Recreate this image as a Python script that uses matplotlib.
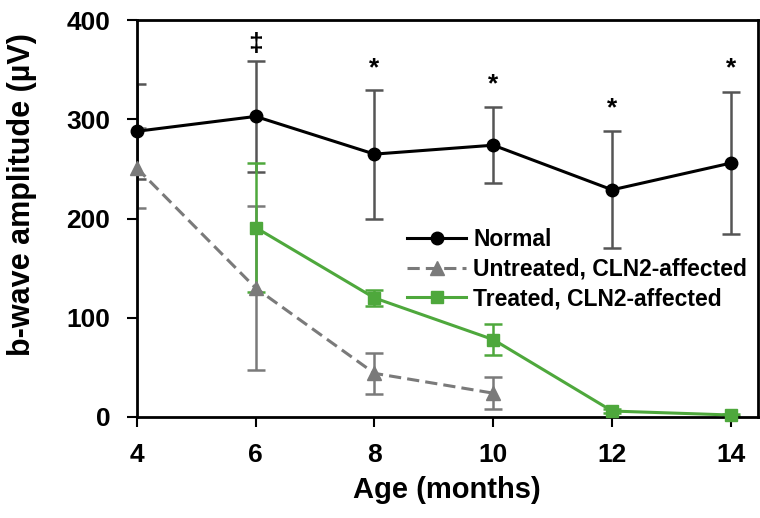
import matplotlib.pyplot as plt

plt.rcParams['font.family'] = ['Liberation Sans', 'DejaVu Sans']
plt.rcParams['font.weight'] = 'bold'

# ages (months)
age_normal = [4, 6, 8, 10, 12, 14]
age_untreated = [4, 6, 8, 10]
age_treated = [6, 8, 10, 12, 14]

# b-wave amplitude (uV) and error
normal = [288, 303, 265, 274, 229, 256]
normal_err = [48, 56, 65, 38, 59, 72]
untreated = [251, 130, 44, 24]
untreated_err = [40, 83, 21, 16]
treated = [191, 120, 78, 6, 2]
treated_err = [65, 8, 16, 2, 1]

# significance marks
mark_x = [6, 8, 10, 12, 14]
mark_y = [376, 352, 335, 311, 351]
mark_txt = ['‡', '*', '*', '*', '*']

green = '#4ea83c'
grey = '#7a7a7a'
errc = '#555555'

fig, ax = plt.subplots(figsize=(7.6, 5.18), dpi=100)
fig.subplots_adjust(left=0.180, right=0.997, bottom=0.195, top=0.961)

ax.errorbar(age_normal, normal, yerr=normal_err, fmt='none', ecolor=errc,
            elinewidth=1.8, capsize=6.5, capthick=1.8, zorder=2)
ax.errorbar(age_untreated, untreated, yerr=untreated_err, fmt='none', ecolor=grey,
            elinewidth=1.8, capsize=6.5, capthick=1.8, zorder=2)
ax.errorbar(age_treated, treated, yerr=treated_err, fmt='none', ecolor=green,
            elinewidth=1.8, capsize=6.5, capthick=1.8, zorder=2)

ax.plot(age_normal, normal, color='black', marker='o', markersize=9, lw=2.2,
        label='Normal', zorder=4, clip_on=False)
ax.plot(age_untreated, untreated, color=grey, marker='^', markersize=10, lw=2.2,
        linestyle='--', dashes=(4, 2), label='Untreated, CLN2-affected', zorder=3, clip_on=False)
ax.plot(age_treated, treated, color=green, marker='s', markersize=9, lw=2.2,
        label='Treated, CLN2-affected', zorder=3, clip_on=False)

for x, y, t in zip(mark_x, mark_y, mark_txt):
    ax.text(x, y, t, ha='center', va='center', fontsize=19, fontweight='bold')

ax.set_xlim(4, 14.45)
ax.set_ylim(0, 400)
ax.set_xticks([4, 6, 8, 10, 12, 14])
ax.set_yticks([0, 100, 200, 300, 400])
ax.tick_params(direction='out', length=7, width=1.5, labelsize=19, pad=12)
for s in ax.spines.values():
    s.set_linewidth(2)

ax.set_xlabel('Age (months)', fontsize=21, fontweight='bold', labelpad=6)
ax.set_ylabel('b-wave amplitude (µV)', fontsize=22, fontweight='bold')
ax.yaxis.set_label_coords(-0.16, 0.56)

ax.legend(loc='upper left', bbox_to_anchor=(0.42, 0.50), frameon=False,
          fontsize=16.5, handlelength=2.6, labelspacing=0.3, handletextpad=0.3,
          borderaxespad=0)

plt.savefig('out.png')
